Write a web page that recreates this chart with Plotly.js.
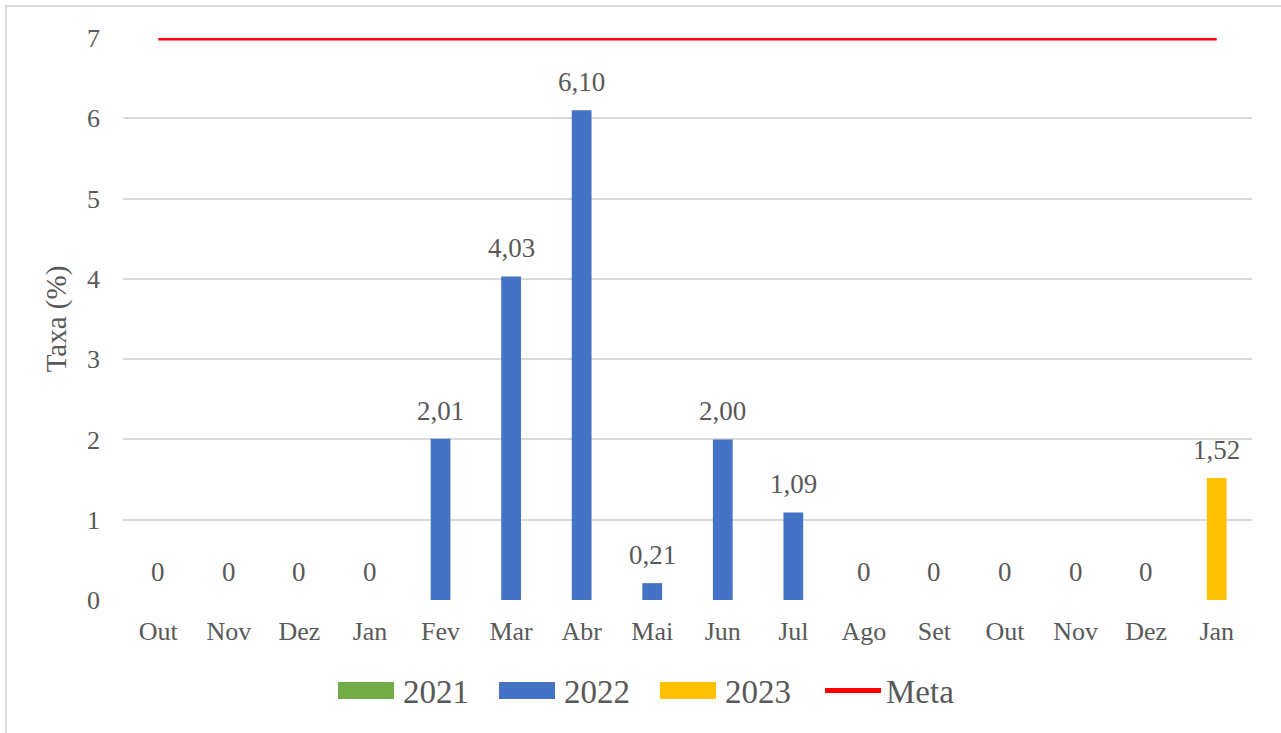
<!DOCTYPE html>
<html>
<head>
<meta charset="utf-8">
<script src="https://cdn.plot.ly/plotly-3.0.1.min.js"></script>
<style>
  html, body { margin: 0; padding: 0; background: #fff; overflow: hidden; }
  #frame { position: absolute; left: 5px; top: 5px; width: 1300px; height: 760px; border: 2px solid #d9d9d9; box-sizing: border-box; }
  #chart { position: absolute; left: 0; top: 0; width: 1281px; height: 733px; }
</style>
</head>
<body>
<div id="frame"></div>
<div id="chart"></div>
<script>
// Category labels (Out 2021 ... Jan 2023)
const months = ['Out','Nov','Dez','Jan','Fev','Mar','Abr','Mai','Jun','Jul','Ago','Set','Out','Nov','Dez','Jan'];
// Series values (null where the series has no month)
const s2021 = [0, 0, 0, null, null, null, null, null, null, null, null, null, null, null, null, null];
const s2022 = [null, null, null, 0, 2.01, 4.03, 6.10, 0.21, 2.00, 1.09, 0, 0, 0, 0, 0, null];
const s2023 = [null, null, null, null, null, null, null, null, null, null, null, null, null, null, null, 1.52];
const meta  = [7, 7, 7, 7, 7, 7, 7, 7, 7, 7, 7, 7, 7, 7, 7, 7];
const yTicks = [0, 1, 2, 3, 4, 5, 6, 7];

const FONT = 'Liberation Serif, Times New Roman, serif';
const GRAY = '#595959';
const idx = months.map((m, i) => i);

function fmt(v) { return v === 0 ? '0' : v.toFixed(2).replace('.', ','); }

const series = [
  {name: '2021', vals: s2021, color: '#70AD47'},
  {name: '2022', vals: s2022, color: '#4472C4'},
  {name: '2023', vals: s2023, color: '#FFC000'}
];

const traces = [];
series.forEach(s => {
  traces.push({
    type: 'bar', x: idx, y: s.vals, name: s.name,
    marker: {color: s.color}, width: 0.28, showlegend: true, hoverinfo: 'y'
  });
});
traces.push({
  type: 'scatter', mode: 'lines', x: idx, y: meta, name: 'Meta', cliponaxis: false,
  line: {color: '#FF0000', width: 5}, showlegend: true
});

const annotations = [];
series.forEach(s => {
  s.vals.forEach((v, i) => {
    if (v === null) return;
    annotations.push({
      x: i, y: v, xref: 'x', yref: 'y', text: fmt(v), showarrow: false,
      yanchor: 'bottom', yshift: 11,
      font: {family: FONT, size: 27, color: GRAY}
    });
  });
});

const layout = {
  width: 1281, height: 733,
  margin: {l: 123, r: 29, t: 38, b: 133},
  paper_bgcolor: 'rgba(0,0,0,0)', plot_bgcolor: 'rgba(0,0,0,0)',
  barmode: 'overlay',
  font: {family: FONT, color: GRAY},
  xaxis: {
    tickmode: 'array', tickvals: idx, ticktext: months,
    range: [-0.5, months.length - 0.5],
    showgrid: false, zeroline: false, ticks: '', ticklabelstandoff: 13,
    tickfont: {family: FONT, size: 26, color: GRAY}
  },
  yaxis: {
    range: [0, 7], tickmode: 'array', tickvals: yTicks,
    showgrid: true, gridcolor: '#D9D9D9', gridwidth: 2, zeroline: false,
    ticks: '', ticklabelstandoff: 22,
    tickfont: {family: FONT, size: 26, color: GRAY},
    title: {text: 'Taxa (%)', font: {family: FONT, size: 29, color: GRAY}, standoff: 11}
  },
  legend: {
    orientation: 'h', x: 0.2126, xanchor: 'left', y: -0.161, yanchor: 'middle',
    font: {family: FONT, size: 33, color: GRAY}, entrywidth: 116, entrywidthmode: 'pixels',
    traceorder: 'normal'
  },
  annotations: annotations,
  showlegend: true
};

function widenKeys(gd) {
  // enlarge the legend keys to the wide Office-style swatches
  gd.querySelectorAll('.legend [clip-path]').forEach(e => e.removeAttribute('clip-path'));
  gd.querySelectorAll('.legend g.legendpoints path').forEach(p => p.setAttribute('d', 'M-45,8.5H11V-8.5H-45Z'));
  gd.querySelectorAll('.legend g.legendlines path').forEach(p => p.setAttribute('d', 'M-21,0h56'));
}

Plotly.newPlot('chart', traces, layout, {displayModeBar: false, staticPlot: true}).then(gd => {
  widenKeys(gd);
  setTimeout(() => widenKeys(gd), 50);
  gd.on('plotly_afterplot', () => widenKeys(gd));
});
</script>
</body>
</html>
